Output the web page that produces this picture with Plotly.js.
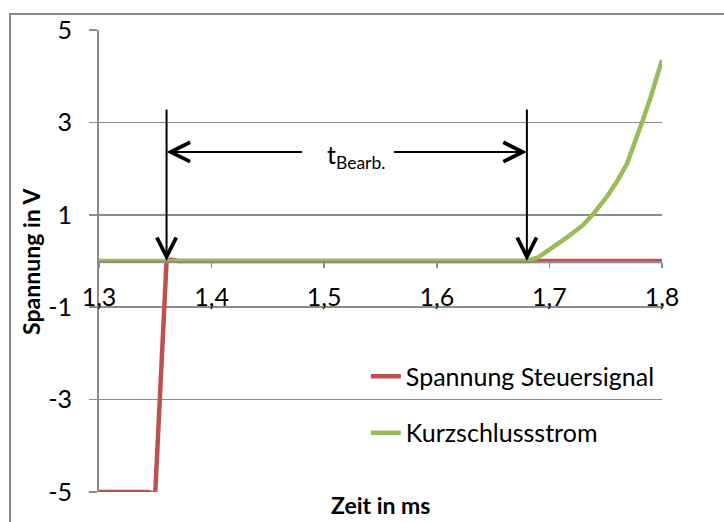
<!DOCTYPE html>
<html>
<head>
<meta charset="utf-8">
<script src="https://cdn.plot.ly/plotly-3.0.1.min.js"></script>
<style>
  html, body { margin: 0; padding: 0; background: #ffffff; }
  #wrap { position: relative; width: 724px; height: 522px; overflow: hidden; }
  #frame { position: absolute; left: 9px; top: 13px; width: 900px; height: 700px;
           border-left: 2px solid #8a8a8a; border-top: 2px solid #8a8a8a; }
  #chart { position: absolute; left: 0; top: 0; width: 724px; height: 522px; }
</style>
</head>
<body>
<div id="wrap">
  <div id="frame"></div>
  <div id="chart"></div>
</div>
<script>
// ---- data ----
const seriesNames = ["Spannung Steuersignal", "Kurzschlussstrom"];

const steuerX = [1.30, 1.344, 1.348, 1.350, 1.360, 1.364, 1.370, 1.40, 1.50, 1.60, 1.70, 1.80];
const steuerY = [-5.0, -5.0, -5.03, -5.0, 0.0, 0.03, 0.0, 0.0, 0.0, 0.0, 0.0, 0.0];

const stromX = [1.30, 1.40, 1.50, 1.60, 1.680, 1.690, 1.700, 1.715, 1.730, 1.740, 1.751, 1.760, 1.769, 1.776, 1.783, 1.790, 1.800];
const stromY = [0.0, 0.0, 0.0, 0.0, 0.00, 0.08, 0.24, 0.50, 0.78, 1.05, 1.39, 1.72, 2.11, 2.55, 3.05, 3.55, 4.35];

const xTickVals = [1.3, 1.4, 1.5, 1.6, 1.7, 1.8];
const xTickText = ["1,3", "1,4", "1,5", "1,6", "1,7", "1,8"];
const yTickVals = [-5, -3, -1, 1, 3, 5];
const yTickText = ["-5", "-3", "-1", "1", "3", "5"];

// marker positions of the processing-time annotation (time values in ms, voltage in V)
const tStart = 1.36;
const tEnd = 1.68;
const arrowTopY = 3.31;
const spanY = 2.36;
const spanGapLeft = 1.4812;
const spanGapRight = 1.5611;
const labelX = 1.5262;
const labelText = "t<sub>Bearb.</sub>";
const xTitle = "Zeit in ms";
const yTitle = "Spannung in V";

// ---- chart ----
const FONT = "Lato, 'Open Sans', sans-serif";
const GRID = "#8c8c8c";

const traces = [
  { x: steuerX, y: steuerY, name: seriesNames[0], type: "scatter", mode: "lines",
    line: { color: "#C0504D", width: 4.5 }, legendgroup: "a" },
  { x: stromX, y: stromY, name: seriesNames[1], type: "scatter", mode: "lines",
    line: { color: "#9BBB59", width: 4.5 }, legendgroup: "b" }
];

const arrowCommon = { text: " ", showarrow: true, arrowhead: 5, arrowsize: 1.9, arrowwidth: 2,
  arrowcolor: "#000000", xref: "x", yref: "y", axref: "x", ayref: "y", font: { size: 2 }, borderpad: 0 };

const annotations = [
  Object.assign({}, arrowCommon, { x: tStart, y: 0, ax: tStart, ay: arrowTopY }),
  Object.assign({}, arrowCommon, { x: tEnd, y: 0, ax: tEnd, ay: arrowTopY }),
  Object.assign({}, arrowCommon, { x: tStart, y: spanY, ax: spanGapLeft, ay: spanY }),
  Object.assign({}, arrowCommon, { x: tEnd, y: spanY, ax: spanGapRight, ay: spanY }),
  { text: labelText, x: labelX, y: spanY, xref: "x", yref: "y", showarrow: false,
    font: { family: FONT, size: 25, color: "#000" }, yshift: -4, xshift: 2 },
  { text: "<b>" + xTitle + "</b>", x: 0.5, y: -0.028, xref: "paper", yref: "paper",
    xanchor: "center", yanchor: "middle", showarrow: false, font: { family: FONT, size: 23, color: "#000" } },
  { text: "<b>" + yTitle + "</b>", x: -0.121, y: 0.5, xref: "paper", yref: "paper", textangle: -90,
    xanchor: "center", yanchor: "middle", showarrow: false, font: { family: FONT, size: 23, color: "#000" } }
];

const layout = {
  width: 724, height: 522,
  margin: { l: 99, r: 62, t: 30, b: 30 },
  paper_bgcolor: "rgba(0,0,0,0)", plot_bgcolor: "rgba(0,0,0,0)",
  font: { family: FONT, size: 25, color: "#000" },
  showlegend: true,
  legend: { x: 0.474, y: 0.30, xanchor: "left", yanchor: "top", bgcolor: "rgba(0,0,0,0)",
    traceorder: "grouped", tracegroupgap: 21, font: { family: FONT, size: 25 } },
  xaxis: {
    range: [1.3, 1.8], anchor: "free", position: 0.5,
    tickvals: xTickVals, ticktext: xTickText,
    showgrid: false, zeroline: false, showline: true, linecolor: GRID, linewidth: 1.5,
    ticks: "outside", ticklen: 5, tickcolor: GRID, tickwidth: 1.5,
    ticklabelstandoff: 8, tickfont: { family: FONT, size: 25 }
  },
  yaxis: {
    range: [-5, 5], tickvals: yTickVals, ticktext: yTickText,
    showgrid: true, gridcolor: GRID, gridwidth: 1.5, zeroline: false,
    showline: true, linecolor: GRID, linewidth: 2,
    ticks: "outside", ticklen: 8, tickcolor: GRID, tickwidth: 1.5,
    ticklabelstandoff: 12, tickfont: { family: FONT, size: 25 }
  },
  annotations: annotations
};

Plotly.newPlot("chart", traces, layout, { staticPlot: true, displayModeBar: false });
</script>
</body>
</html>
